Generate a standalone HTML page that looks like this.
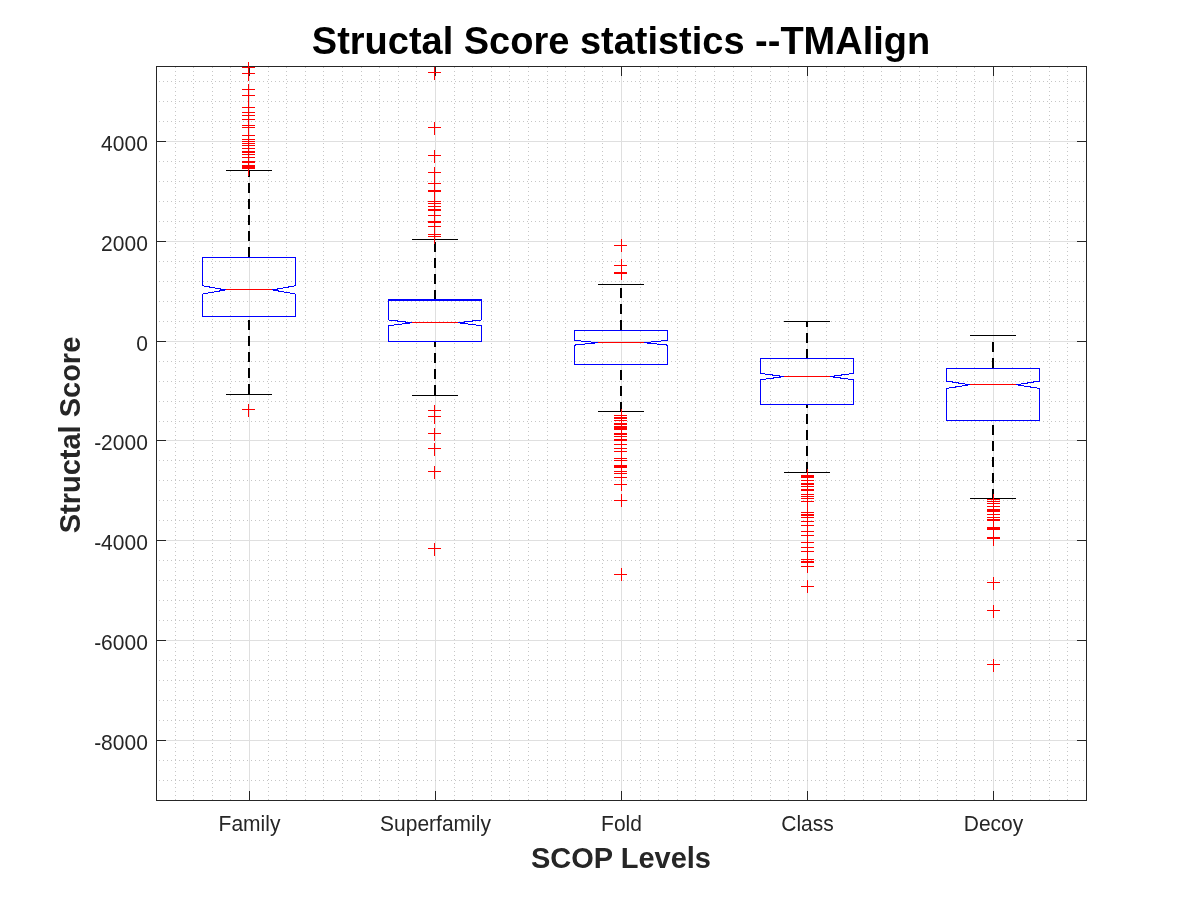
<!DOCTYPE html><html><head><meta charset="utf-8"><style>
html,body{margin:0;padding:0;background:#fff;width:1200px;height:900px;overflow:hidden}
svg{display:block;will-change:transform}
text{font-family:"Liberation Sans",sans-serif}
</style></head><body>
<svg width="1200" height="900" viewBox="0 0 1200 900">
<rect x="0" y="0" width="1200" height="900" fill="#fff"/>

<path d="M249.5 67V800M435.5 67V800M621.5 67V800M807.5 67V800M993.5 67V800M157 740.5H1086M157 640.5H1086M157 540.5H1086M157 440.5H1086M157 341.5H1086M157 241.5H1086M157 141.5H1086" stroke="#dfdfdf" stroke-width="1" shape-rendering="crispEdges" fill="none"/>
<path d="M175.5 67V800M193.5 67V800M212.5 67V800M230.5 67V800M268.5 67V800M286.5 67V800M305.5 67V800M323.5 67V800M342.5 67V800M361.5 67V800M379.5 67V800M398.5 67V800M416.5 67V800M454.5 67V800M472.5 67V800M491.5 67V800M509.5 67V800M528.5 67V800M547.5 67V800M565.5 67V800M584.5 67V800M602.5 67V800M640.5 67V800M658.5 67V800M677.5 67V800M695.5 67V800M714.5 67V800M733.5 67V800M751.5 67V800M770.5 67V800M788.5 67V800M826.5 67V800M844.5 67V800M863.5 67V800M881.5 67V800M900.5 67V800M919.5 67V800M937.5 67V800M956.5 67V800M974.5 67V800M1012.5 67V800M1030.5 67V800M1049.5 67V800M1067.5 67V800" stroke="#c6c6c6" stroke-width="1" stroke-dasharray="1 3" shape-rendering="crispEdges" fill="none"/>
<path d="M159 780.5H1086M159 760.5H1086M159 720.5H1086M159 700.5H1086M159 680.5H1086M159 660.5H1086M159 620.5H1086M159 600.5H1086M159 580.5H1086M159 560.5H1086M159 520.5H1086M159 500.5H1086M159 480.5H1086M159 460.5H1086M159 421.5H1086M159 401.5H1086M159 381.5H1086M159 361.5H1086M159 321.5H1086M159 301.5H1086M159 281.5H1086M159 261.5H1086M159 221.5H1086M159 201.5H1086M159 181.5H1086M159 161.5H1086M159 121.5H1086M159 101.5H1086M159 81.5H1086" stroke="#c6c6c6" stroke-width="1" stroke-dasharray="1 3" shape-rendering="crispEdges" fill="none"/>
<path d="M156.5 66.5H1086.5V800.5H156.5ZM157 740.5H166M1086 740.5H1077M157 640.5H166M1086 640.5H1077M157 540.5H166M1086 540.5H1077M157 440.5H166M1086 440.5H1077M157 341.5H166M1086 341.5H1077M157 241.5H166M1086 241.5H1077M157 141.5H166M1086 141.5H1077M249.5 800V791M249.5 67V76M435.5 800V791M435.5 67V76M621.5 800V791M621.5 67V76M807.5 800V791M807.5 67V76M993.5 800V791M993.5 67V76" stroke="#262626" stroke-width="1" shape-rendering="crispEdges" fill="none"/>
<path d="M249 257V170M249 394V316M435 300V239M435 395V341M621 330V284M621 412V364M807 359V321M807 472V404M993 368V335M993 499V420" stroke="#000" stroke-width="2" stroke-dasharray="10 6" shape-rendering="crispEdges" fill="none"/>
<path d="M226 170.5H272M226 394.5H272M412 239.5H458M412 395.5H458M598 284.5H644M598 411.5H644M784 321.5H830M784 472.5H830M970 335.5H1016M970 498.5H1016" stroke="#000" stroke-width="1" shape-rendering="crispEdges" fill="none"/>
<path d="M202 257h94v1h-94zM202 316h94v1h-94zM202 257h1v29h-1z M202 294h1v23h-1zM295 257h1v29h-1z M295 294h1v23h-1zM202 285h2v1h-2zM294 285h2v1h-2zM204 286h6v1h-6zM288 286h6v1h-6zM209 287h6v1h-6zM283 287h6v1h-6zM215 288h6v1h-6zM277 288h6v1h-6zM220 289h6v1h-6zM272 289h6v1h-6zM219 290h6v1h-6zM273 290h6v1h-6zM214 291h6v1h-6zM278 291h6v1h-6zM208 292h6v1h-6zM284 292h6v1h-6zM203 293h5v1h-5zM290 293h5v1h-5zM202 294h1v1h-1zM295 294h1v1h-1zM388 299h94v1h-94zM388 300h94v1h-94zM388 341h94v1h-94zM388 299h1v21h-1z M388 325h1v17h-1zM481 299h1v21h-1z M481 325h1v17h-1zM388 319h1v1h-1zM481 319h1v1h-1zM389 320h9v1h-9zM472 320h9v1h-9zM397 321h9v1h-9zM464 321h9v1h-9zM405 322h7v1h-7zM458 322h7v1h-7zM402 323h8v1h-8zM460 323h8v1h-8zM394 324h8v1h-8zM468 324h8v1h-8zM388 325h6v1h-6zM476 325h6v1h-6zM574 330h94v1h-94zM574 364h94v1h-94zM574 330h1v11h-1z M574 345h1v20h-1zM667 330h1v11h-1z M667 345h1v20h-1zM574 340h7v1h-7zM661 340h7v1h-7zM581 341h10v1h-10zM651 341h10v1h-10zM591 342h7v1h-7zM644 342h7v1h-7zM585 343h10v1h-10zM647 343h10v1h-10zM575 344h10v1h-10zM657 344h10v1h-10zM574 345h2v1h-2zM666 345h2v1h-2zM760 358h94v1h-94zM760 404h94v1h-94zM760 358h1v16h-1z M760 379h1v26h-1zM853 358h1v16h-1z M853 379h1v26h-1zM760 373h5v1h-5zM849 373h5v1h-5zM765 374h8v1h-8zM841 374h8v1h-8zM772 375h8v1h-8zM834 375h8v1h-8zM779 376h5v1h-5zM830 376h5v1h-5zM773 377h8v1h-8zM833 377h8v1h-8zM766 378h8v1h-8zM840 378h8v1h-8zM760 379h6v1h-6zM848 379h6v1h-6zM946 368h94v1h-94zM946 420h94v1h-94zM946 368h1v14h-1z M946 388h1v33h-1zM1039 368h1v14h-1z M1039 388h1v33h-1zM946 381h7v1h-7zM1033 381h7v1h-7zM952 382h7v1h-7zM1027 382h7v1h-7zM958 383h7v1h-7zM1021 383h7v1h-7zM965 384h5v1h-5zM1016 384h5v1h-5zM962 385h6v1h-6zM1018 385h6v1h-6zM955 386h7v1h-7zM1024 386h7v1h-7zM949 387h7v1h-7zM1030 387h7v1h-7zM946 388h3v1h-3zM1037 388h3v1h-3z" fill="#0000ff" shape-rendering="crispEdges"/>
<path d="M226 289H272v1H226zM412 322H458v1H412zM598 342H644v1H598zM784 376H830v1H784zM970 384H1016v1H970z" fill="#ff0000" shape-rendering="crispEdges"/>
<path d="M242 67h13v1h-13z M248 62h1v13h-1zM242 73h13v1h-13z M248 68h1v13h-1zM242 89h13v1h-13z M248 84h1v13h-1zM242 95h13v1h-13z M248 90h1v13h-1zM242 107h13v1h-13z M248 102h1v13h-1zM242 112h13v1h-13z M248 107h1v13h-1zM242 115h13v1h-13z M248 110h1v13h-1zM242 119h13v1h-13z M248 114h1v13h-1zM242 125h13v1h-13z M248 120h1v13h-1zM242 127h13v1h-13z M248 122h1v13h-1zM242 135h13v1h-13z M248 130h1v13h-1zM242 139h13v1h-13z M248 134h1v13h-1zM242 141h13v1h-13z M248 136h1v13h-1zM242 143h13v1h-13z M248 138h1v13h-1zM242 145h13v1h-13z M248 140h1v13h-1zM242 148h13v1h-13z M248 143h1v13h-1zM242 151h13v1h-13z M248 146h1v13h-1zM242 152h13v1h-13z M248 147h1v13h-1zM242 154h13v1h-13z M248 149h1v13h-1zM242 157h13v1h-13z M248 152h1v13h-1zM242 161h13v1h-13z M248 156h1v13h-1zM242 162h13v1h-13z M248 157h1v13h-1zM242 165h13v1h-13z M248 160h1v13h-1zM242 166h13v1h-13z M248 161h1v13h-1zM242 167h13v1h-13z M248 162h1v13h-1zM242 168h13v1h-13z M248 163h1v13h-1zM242 409h13v1h-13z M248 404h1v13h-1zM428 72h13v1h-13z M434 67h1v13h-1zM428 127h13v1h-13z M434 122h1v13h-1zM428 155h13v1h-13z M434 150h1v13h-1zM428 172h13v1h-13z M434 167h1v13h-1zM428 183h13v1h-13z M434 178h1v13h-1zM428 190h13v1h-13z M434 185h1v13h-1zM428 191h13v1h-13z M434 186h1v13h-1zM428 201h13v1h-13z M434 196h1v13h-1zM428 203h13v1h-13z M434 198h1v13h-1zM428 206h13v1h-13z M434 201h1v13h-1zM428 209h13v1h-13z M434 204h1v13h-1zM428 210h13v1h-13z M434 205h1v13h-1zM428 215h13v1h-13z M434 210h1v13h-1zM428 221h13v1h-13z M434 216h1v13h-1zM428 222h13v1h-13z M434 217h1v13h-1zM428 226h13v1h-13z M434 221h1v13h-1zM428 234h13v1h-13z M434 229h1v13h-1zM428 236h13v1h-13z M434 231h1v13h-1zM428 410h13v1h-13z M434 405h1v13h-1zM428 416h13v1h-13z M434 411h1v13h-1zM428 433h13v1h-13z M434 428h1v13h-1zM428 448h13v1h-13z M434 443h1v13h-1zM428 471h13v1h-13z M434 466h1v13h-1zM428 548h13v1h-13z M434 543h1v13h-1zM614 245h13v1h-13z M621 239h1v13h-1zM614 265h13v1h-13z M621 259h1v13h-1zM614 272h13v1h-13z M621 266h1v13h-1zM614 273h13v1h-13z M621 267h1v13h-1zM614 415h13v1h-13z M621 409h1v13h-1zM614 417h13v1h-13z M621 411h1v13h-1zM614 418h13v1h-13z M621 412h1v13h-1zM614 420h13v1h-13z M621 414h1v13h-1zM614 423h13v1h-13z M621 417h1v13h-1zM614 424h13v1h-13z M621 418h1v13h-1zM614 426h13v1h-13z M621 420h1v13h-1zM614 427h13v1h-13z M621 421h1v13h-1zM614 428h13v1h-13z M621 422h1v13h-1zM614 429h13v1h-13z M621 423h1v13h-1zM614 433h13v1h-13z M621 427h1v13h-1zM614 434h13v1h-13z M621 428h1v13h-1zM614 436h13v1h-13z M621 430h1v13h-1zM614 439h13v1h-13z M621 433h1v13h-1zM614 440h13v1h-13z M621 434h1v13h-1zM614 444h13v1h-13z M621 438h1v13h-1zM614 448h13v1h-13z M621 442h1v13h-1zM614 451h13v1h-13z M621 445h1v13h-1zM614 458h13v1h-13z M621 452h1v13h-1zM614 460h13v1h-13z M621 454h1v13h-1zM614 465h13v1h-13z M621 459h1v13h-1zM614 466h13v1h-13z M621 460h1v13h-1zM614 467h13v1h-13z M621 461h1v13h-1zM614 471h13v1h-13z M621 465h1v13h-1zM614 473h13v1h-13z M621 467h1v13h-1zM614 477h13v1h-13z M621 471h1v13h-1zM614 484h13v1h-13z M621 478h1v13h-1zM614 500h13v1h-13z M621 494h1v13h-1zM614 574h13v1h-13z M621 568h1v13h-1zM801 475h13v1h-13z M807 469h1v13h-1zM801 476h13v1h-13z M807 470h1v13h-1zM801 477h13v1h-13z M807 471h1v13h-1zM801 480h13v1h-13z M807 474h1v13h-1zM801 483h13v1h-13z M807 477h1v13h-1zM801 484h13v1h-13z M807 478h1v13h-1zM801 486h13v1h-13z M807 480h1v13h-1zM801 489h13v1h-13z M807 483h1v13h-1zM801 490h13v1h-13z M807 484h1v13h-1zM801 494h13v1h-13z M807 488h1v13h-1zM801 496h13v1h-13z M807 490h1v13h-1zM801 498h13v1h-13z M807 492h1v13h-1zM801 501h13v1h-13z M807 495h1v13h-1zM801 512h13v1h-13z M807 506h1v13h-1zM801 514h13v1h-13z M807 508h1v13h-1zM801 515h13v1h-13z M807 509h1v13h-1zM801 517h13v1h-13z M807 511h1v13h-1zM801 521h13v1h-13z M807 515h1v13h-1zM801 525h13v1h-13z M807 519h1v13h-1zM801 531h13v1h-13z M807 525h1v13h-1zM801 535h13v1h-13z M807 529h1v13h-1zM801 542h13v1h-13z M807 536h1v13h-1zM801 547h13v1h-13z M807 541h1v13h-1zM801 551h13v1h-13z M807 545h1v13h-1zM801 559h13v1h-13z M807 553h1v13h-1zM801 561h13v1h-13z M807 555h1v13h-1zM801 562h13v1h-13z M807 556h1v13h-1zM801 566h13v1h-13z M807 560h1v13h-1zM801 586h13v1h-13z M807 580h1v13h-1zM987 499h13v1h-13z M993 494h1v13h-1zM987 501h13v1h-13z M993 496h1v13h-1zM987 503h13v1h-13z M993 498h1v13h-1zM987 506h13v1h-13z M993 501h1v13h-1zM987 509h13v1h-13z M993 504h1v13h-1zM987 510h13v1h-13z M993 505h1v13h-1zM987 511h13v1h-13z M993 506h1v13h-1zM987 514h13v1h-13z M993 509h1v13h-1zM987 517h13v1h-13z M993 512h1v13h-1zM987 519h13v1h-13z M993 514h1v13h-1zM987 520h13v1h-13z M993 515h1v13h-1zM987 527h13v1h-13z M993 522h1v13h-1zM987 528h13v1h-13z M993 523h1v13h-1zM987 529h13v1h-13z M993 524h1v13h-1zM987 537h13v1h-13z M993 532h1v13h-1zM987 538h13v1h-13z M993 533h1v13h-1zM987 582h13v1h-13z M993 577h1v13h-1zM987 610h13v1h-13z M993 605h1v13h-1zM987 664h13v1h-13z M993 659h1v13h-1z" fill="#ff0000" shape-rendering="crispEdges"/>
<text transform="translate(147.8 749.5) scale(1 1.04)" text-anchor="end" font-size="21" fill="#262626">-8000</text>
<text transform="translate(147.8 649.5) scale(1 1.04)" text-anchor="end" font-size="21" fill="#262626">-6000</text>
<text transform="translate(147.8 549.5) scale(1 1.04)" text-anchor="end" font-size="21" fill="#262626">-4000</text>
<text transform="translate(147.8 449.5) scale(1 1.04)" text-anchor="end" font-size="21" fill="#262626">-2000</text>
<text transform="translate(147.8 350.5) scale(1 1.04)" text-anchor="end" font-size="21" fill="#262626">0</text>
<text transform="translate(147.8 250.5) scale(1 1.04)" text-anchor="end" font-size="21" fill="#262626">2000</text>
<text transform="translate(147.8 150.5) scale(1 1.04)" text-anchor="end" font-size="21" fill="#262626">4000</text>
<text transform="translate(249.5 831.2) scale(1 1.04)" text-anchor="middle" font-size="21" fill="#262626">Family</text>
<text transform="translate(435.5 831.2) scale(1 1.04)" text-anchor="middle" font-size="21" fill="#262626">Superfamily</text>
<text transform="translate(621.5 831.2) scale(1 1.04)" text-anchor="middle" font-size="21" fill="#262626">Fold</text>
<text transform="translate(807.5 831.2) scale(1 1.04)" text-anchor="middle" font-size="21" fill="#262626">Class</text>
<text transform="translate(993.5 831.2) scale(1 1.04)" text-anchor="middle" font-size="21" fill="#262626">Decoy</text>
<text transform="translate(621 867.5) scale(1 1.04)" text-anchor="middle" font-size="29" font-weight="bold" fill="#262626">SCOP Levels</text>
<text transform="translate(79.9 435) rotate(-90) scale(1 1.04)" text-anchor="middle" font-size="29" font-weight="bold" fill="#262626">Structal Score</text>
<text transform="translate(621 53.5) scale(1 1.04)" text-anchor="middle" font-size="38" font-weight="bold" fill="#000">Structal Score statistics --TMAlign</text>
</svg></body></html>
